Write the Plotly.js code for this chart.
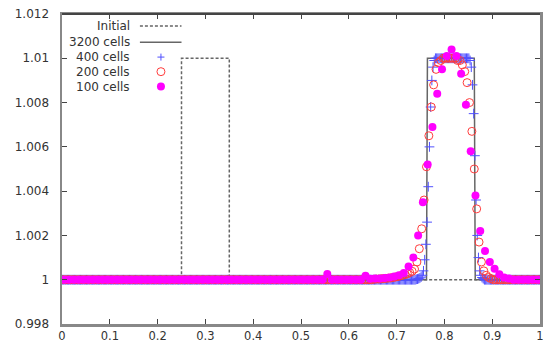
<!DOCTYPE html>
<html>
<head>
<meta charset="utf-8">
<script src="https://cdn.plot.ly/plotly-3.0.1.min.js"></script>
<style>html,body{margin:0;padding:0;background:#fff;}#chart{width:545px;height:347px;}</style>
</head>
<body>
<div id="chart"></div>
<script>
// ---- data ----
const seriesNames = ["Initial", "3200 cells", "400 cells", "200 cells", "100 cells"];

const xInit = [0, 0.25, 0.25, 0.35, 0.35, 1];
const yInit = [1, 1, 1.01, 1.01, 1, 1];

const x3200 = [0, 0.7625, 0.7635, 0.7645, 0.8625, 0.8635, 0.8645, 1];
const y3200 = [1, 1, 1.005, 1.01, 1.01, 1.005, 1, 1];

// 400 cells: cell centres start at 0.00125, spacing 0.0025
const start400 = 0.00125, step400 = 0.0025;
const y400 = [
1,1,1,1,1,1,1,1,1,1, // 0
1,1,1,1,1,1,1,1,1,1, // 10
1,1,1,1,1,1,1,1,1,1, // 20
1,1,1,1,1,1,1,1,1,1, // 30
1,1,1,1,1,1,1,1,1,1, // 40
1,1,1,1,1,1,1,1,1,1, // 50
1,1,1,1,1,1,1,1,1,1, // 60
1,1,1,1,1,1,1,1,1,1, // 70
1,1,1,1,1,1,1,1,1,1, // 80
1,1,1,1,1,1,1,1,1,1, // 90
1,1,1,1,1,1,1,1,1,1, // 100
1,1,1,1,1,1,1,1,1,1, // 110
1,1,1,1,1,1,1,1,1,1, // 120
1,1,1,1,1,1,1,1,1,1, // 130
1,1,1,1,1,1,1,1,1,1, // 140
1,1,1,1,1,1,1,1,1,1, // 150
1,1,1,1,1,1,1,1,1,1, // 160
1,1,1,1,1,1,1,1,1,1, // 170
1,1,1,1,1,1,1,1,1,1, // 180
1,1,1,1,1,1,1,1,1,1, // 190
1,1,1,1,1,1,1,1,1,1, // 200
1,1,1,1,1,1,1,1,1,1, // 210
1,1,1,1,1,1,1,1,1,1, // 220
1,1,1,1,1,1,1,1,1,1, // 230
1,1,1,1,1,1,1,1,1,1, // 240
1,1,1,1,1,1,1,1,1,1, // 250
1,1,1,1,1,1,1,1,1,1, // 260
1,1,1,1,1,1,1,1,1,1, // 270
1,1,1,1,1,1,1,1,1,1, // 280
1,1,1,1,1,1,1.00002,1.00003,1.00005,1.00008, // 290
1.00012,1.0002,1.0004,1.0009,1.0016,1.0026,1.0042,1.0060,1.0078,1.0090, // 300
1.0096,1.0099,1.01,1.01,1.01,1.01,1.01,1.01,1.01,1.01, // 310
1.01,1.01,1.01,1.01,1.01,1.01,1.01,1.01,1.01,1.01, // 320
1.01,1.01,1.01,1.01,1.01,1.01,1.01,1.01,1.01,1.01, // 330
1.01,1.0099,1.0096,1.0088,1.0075,1.0056,1.0036,1.0020,1.0010,1.0004, // 340
1.0002,1.0001,1.00005,1,1,1,1,1,1,1, // 350
1,1,1,1,1,1,1,1,1,1, // 360
1,1,1,1,1,1,1,1,1,1, // 370
1,1,1,1,1,1,1,1,1,1, // 380
1,1,1,1,1,1,1,1,1,1  // 390
];

// 200 cells: centres start at 0.0025, spacing 0.005
const start200 = 0.0025, step200 = 0.005;
const y200 = [
1,1,1,1,1,1,1,1,1,1, // 0
1,1,1,1,1,1,1,1,1,1, // 10
1,1,1,1,1,1,1,1,1,1, // 20
1,1,1,1,1,1,1,1,1,1, // 30
1,1,1,1,1,1,1,1,1,1, // 40
1,1,1,1,1,1,1,1,1,1, // 50
1,1,1,1,1,1,1,1,1,1, // 60
1,1,1,1,1,1,1,1,1,1, // 70
1,1,1,1,1,1,1,1,1,1, // 80
1,1,1,1,1,1,1,1,1,1, // 90
1,1,1,1,1,1,1,1,1,1, // 100
1,1,1,1,1,1,1,1,1,1, // 110
1,1,1,1,1,1,1,1,1,1, // 120
1.00002,1.00003,1.00003,1.00004,1.00005,1.00006,1.00007,1.00008,1.0001,1.00012, // 130
1.00014,1.00017,1.0002,1.00023,1.00027,1.00032,1.00038,1.00048,1.0008,1.0014, // 140
1.0023,1.0036,1.0051,1.0065,1.0078,1.0088,1.0095,1.0098,1.0099,1.0100, // 150
1.0100,1.0100,1.0100,1.0100,1.0100,1.0099,1.0099,1.0097,1.0094,1.0089, // 160
1.0080,1.0067,1.0050,1.0032,1.0017,1.0008,1.0004,1.0002,1.0001,1.00005, // 170
1,1,1,1,1,1,1,1,1,1, // 180
1,1,1,1,1,1,1,1,1,1  // 190
];

// 100 cells: centres start at 0.005, spacing 0.01
const start100 = 0.005, step100 = 0.01;
const y100 = [
1,1,1,1,1,1,1,1,1,1, // 0
1,1,1,1,1,1,1,1,1,1, // 10
1,1,1,1,1,1,1,1,1,1, // 20
1,1,1,1,1,1,1,1,1,1, // 30
1,1,1,1,1,1,1,1,1,1, // 40
1,1,1,1,1,1.00026,1,1,1,1, // 50
1,1,1,1.00018,1.00004,1.00005,1.00006,1.00008,1.0001,1.00015, // 60
1.0002,1.0003,1.0006,1.0010,1.0020,1.0035,1.0052,1.0069,1.0084,1.0095, // 70
1.0101,1.0104,1.0101,1.0093,1.0079,1.0058,1.0038,1.0022,1.0013,1.0008, // 80
1.0005,1.00025,1.0001,1.00005,1,1,1,1,1,1  // 90
];

const xTickVals = [0, 0.1, 0.2, 0.3, 0.4, 0.5, 0.6, 0.7, 0.8, 0.9, 1];
const xTickText = ["0", "0.1", "0.2", "0.3", "0.4", "0.5", "0.6", "0.7", "0.8", "0.9", "1"];
const yTickVals = [0.998, 1, 1.002, 1.004, 1.006, 1.008, 1.01, 1.012];
const yTickText = ["0.998", "1", "1.002", "1.004", "1.006", "1.008", "1.01", "1.012"];

// ---- styles ----
const FONT = "DejaVu Sans, Arial, sans-serif";
const cInit = "#666", c3200 = "#666", cBlue = "rgb(80,80,255)", cRed = "rgb(255,60,60)", cMag = "#ff00ff";

const traces = [
  {x: xInit, y: yInit, mode: "lines", line: {color: cInit, width: 1.5, dash: "3px,2px"}, name: seriesNames[0]},
  {x: x3200, y: y3200, mode: "lines", line: {color: c3200, width: 1.5}, name: seriesNames[1]},
  {x0: start400, dx: step400, y: y400, mode: "markers", name: seriesNames[2],
   marker: {symbol: "cross-thin", size: 7, color: cBlue, line: {color: cBlue, width: 1}}},
  {x0: start200, dx: step200, y: y200, mode: "markers", name: seriesNames[3],
   marker: {symbol: "circle-open", size: 8, color: cRed, line: {color: cRed, width: 1}}},
  {x0: start100, dx: step100, y: y100, mode: "markers", name: seriesNames[4],
   marker: {symbol: "circle", size: 8, color: cMag, line: {width: 0}}}
];

// manual gnuplot-style key (text right-aligned, sample to the right)
const keyRows = [0.961, 0.909, 0.861, 0.814, 0.766];
const keyTextX = 0.146, keyL0 = 0.163, keyL1 = 0.250, keyMid = 0.207;
const annotations = seriesNames.map((n, i) => ({
  xref: "paper", yref: "paper", x: keyTextX, y: keyRows[i], xanchor: "right", yanchor: "middle",
  text: n, showarrow: false, font: {family: FONT, size: 12, color: "#333"}
}));
const shapes = [
  {type: "line", xref: "paper", yref: "paper", x0: keyL0, x1: keyL1, y0: keyRows[0], y1: keyRows[0],
   line: {color: cInit, width: 1.5, dash: "3px,2px"}},
  {type: "line", xref: "paper", yref: "paper", x0: keyL0, x1: keyL1, y0: keyRows[1], y1: keyRows[1],
   line: {color: c3200, width: 1.5}},
  {type: "line", xref: "paper", yref: "paper", xsizemode: "pixel", ysizemode: "pixel", xanchor: keyMid, yanchor: keyRows[2],
   x0: -3.5, x1: 3.5, y0: 0, y1: 0, line: {color: cBlue, width: 1}},
  {type: "line", xref: "paper", yref: "paper", xsizemode: "pixel", ysizemode: "pixel", xanchor: keyMid, yanchor: keyRows[2],
   x0: 0, x1: 0, y0: -3.5, y1: 3.5, line: {color: cBlue, width: 1}},
  {type: "circle", xref: "paper", yref: "paper", xsizemode: "pixel", ysizemode: "pixel", xanchor: keyMid, yanchor: keyRows[3],
   x0: -4, x1: 4, y0: -4, y1: 4, line: {color: cRed, width: 1}},
  {type: "circle", xref: "paper", yref: "paper", xsizemode: "pixel", ysizemode: "pixel", xanchor: keyMid, yanchor: keyRows[4],
   x0: -4, x1: 4, y0: -4, y1: 4, line: {width: 0}, fillcolor: cMag},
  {type: "line", xref: "paper", yref: "paper", x0: 0, x1: 1, y0: 1, y1: 1, line: {color: "#444", width: 2}}
];

const axisCommon = {
  showgrid: false, zeroline: false, showline: true, linecolor: "#888", linewidth: 2.5,
  mirror: "allticks", ticks: "inside", ticklen: 5, tickwidth: 1, tickcolor: "#444",
  tickfont: {family: FONT, size: 12, color: "#333"}, automargin: false, fixedrange: true
};

const layout = {
  width: 545, height: 347,
  margin: {l: 62, r: 5, t: 14, b: 23},
  paper_bgcolor: "#fff", plot_bgcolor: "#fff",
  showlegend: false,
  xaxis: Object.assign({}, axisCommon, {range: [0, 1], tickmode: "array", tickvals: xTickVals, ticktext: xTickText,
    ticklabelstandoff: 0, tickfont: {family: FONT, size: 11.5, color: "#333"}}),
  yaxis: Object.assign({}, axisCommon, {range: [0.998, 1.012], tickmode: "array", tickvals: yTickVals, ticktext: yTickText, ticklabelstandoff: 8}),
  annotations: annotations,
  shapes: shapes
};

Plotly.newPlot("chart", traces, layout, {staticPlot: true, displayModeBar: false});
</script>
</body>
</html>
